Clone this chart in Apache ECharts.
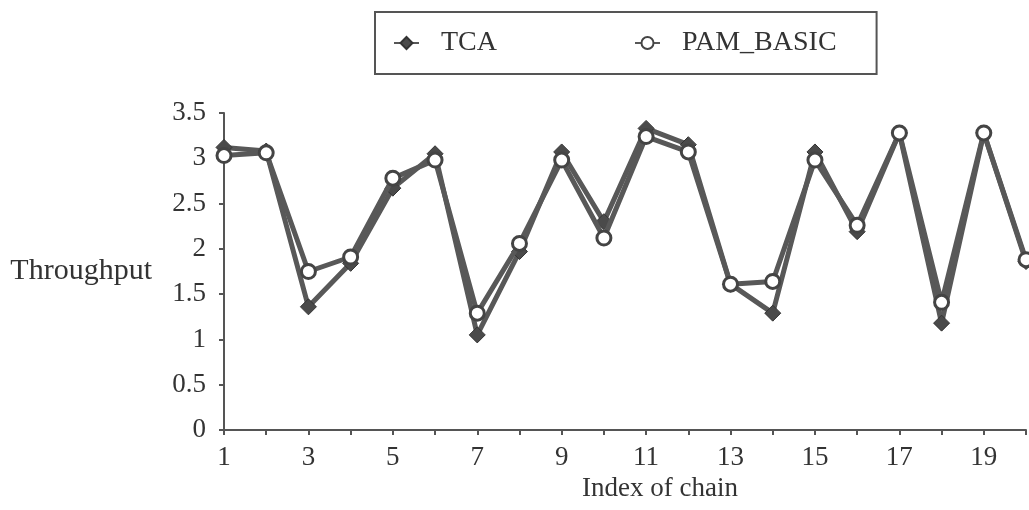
<!DOCTYPE html>
<html>
<head>
<meta charset="utf-8">
<script src="https://cdn.jsdelivr.net/npm/echarts@6/dist/echarts.min.js"></script>
<style>
  html, body { margin: 0; padding: 0; background: #fff; }
  #chart { width: 1029px; height: 510px; }
</style>
</head>
<body>
<div id="chart"></div>
<script>
// chain indices and throughput
const chainIndex = [1, 2, 3, 4, 5, 6, 7, 8, 9, 10, 11, 12, 13, 14, 15, 16, 17, 18, 19, 20];
const tcaValues = [3.12, 3.08, 1.36, 1.84, 2.67, 3.05, 1.05, 1.97, 3.07, 2.30, 3.33, 3.15, 1.61, 1.29, 3.07, 2.19, 3.28, 1.18, 3.28, 1.86];
const pamValues = [3.03, 3.06, 1.75, 1.91, 2.78, 2.98, 1.29, 2.06, 2.98, 2.12, 3.24, 3.07, 1.61, 1.64, 2.98, 2.26, 3.28, 1.41, 3.28, 1.88];

const FONT = "'Liberation Serif', 'Times New Roman', serif";
const INK = "#333";
const LINE = "#585858";

const toPoints = (values) => values.map((v, i) => [chainIndex[i], v]);

const chart = echarts.init(document.getElementById("chart"));
chart.setOption({
	animation: false,
	textStyle: { fontFamily: FONT, color: INK },
	legend: {
		left: 375,
		top: 12,
		padding: [17, 40, 17, 18],
		borderColor: "#555",
		borderWidth: 2,
		itemGap: 137,
		itemWidth: 25,
		itemHeight: 15,
		textStyle: { fontFamily: FONT, fontSize: 28, color: INK, padding: [0, 0, 0, 17] },
		data: ["TCA", "PAM_BASIC"],
	},
	grid: { left: 224, right: -1, top: 113, bottom: 80 },
	xAxis: {
		type: "value",
		min: 1,
		max: 20,
		interval: 1,
		name: "Index of chain",
		nameLocation: "middle",
		nameGap: 44,
		nameTextStyle: { fontFamily: FONT, fontSize: 27, color: INK, padding: [0, 0, 0, 70] },
		axisLine: { lineStyle: { color: "#555", width: 2 } },
		axisTick: { length: 5, lineStyle: { color: "#555", width: 2 } },
		splitLine: { show: false },
		axisLabel: {
			fontFamily: FONT,
			fontSize: 27,
			color: INK,
			margin: 14,
			formatter: (v) => (v % 2 === 1 ? String(v) : ""),
		},
	},
	yAxis: {
		type: "value",
		min: 0,
		max: 3.5,
		interval: 0.5,
		name: "Throughput",
		nameLocation: "middle",
		nameRotate: 0,
		nameGap: 72,
		nameTextStyle: { fontFamily: FONT, fontSize: 30, color: INK },
		axisLine: { show: true, lineStyle: { color: "#555", width: 2 } },
		axisTick: { show: true, length: 5, lineStyle: { color: "#555", width: 2 } },
		splitLine: { show: false },
		axisLabel: { fontFamily: FONT, fontSize: 27, color: INK, margin: 18 },
	},
	series: [
		{
			name: "TCA",
			type: "line",
			data: toPoints(tcaValues),
			symbol: "diamond",
			symbolSize: 16,
			itemStyle: { color: "#4a4a4a", borderColor: "#333", borderWidth: 1 },
			lineStyle: { color: LINE, width: 5 },
			z: 2,
		},
		{
			name: "PAM_BASIC",
			type: "line",
			data: toPoints(pamValues),
			symbol: "circle",
			symbolSize: 14,
			itemStyle: { color: "#fff", borderColor: "#444", borderWidth: 3 },
			lineStyle: { color: LINE, width: 5 },
			z: 3,
		},
	],
});
</script>
</body>
</html>
